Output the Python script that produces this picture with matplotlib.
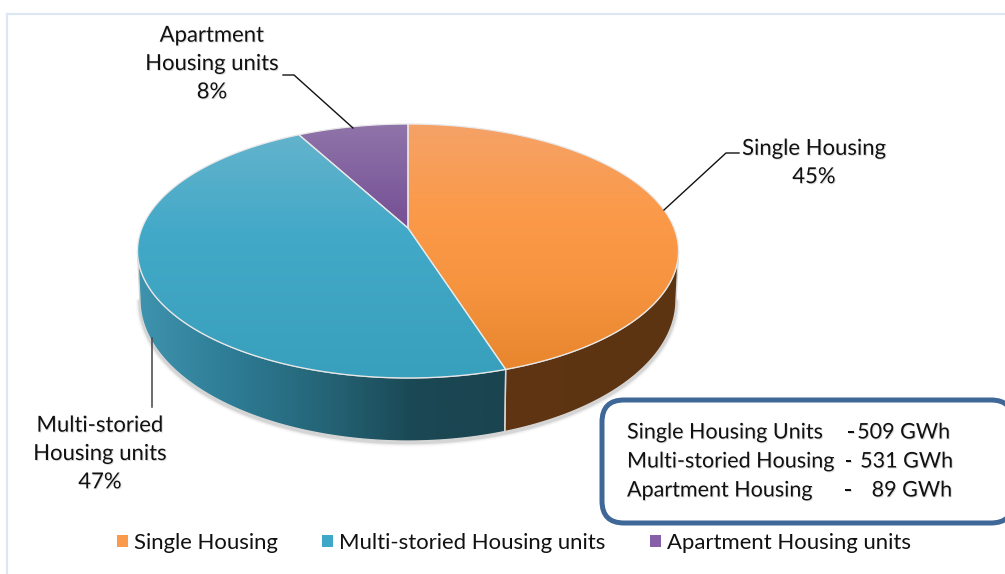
import numpy as np
import matplotlib
matplotlib.use("Agg")
import matplotlib.pyplot as plt
import matplotlib.patheffects as pe
from matplotlib.colors import LinearSegmentedColormap as LSC
from matplotlib.patches import FancyBboxPatch, Polygon, Rectangle

categories = ["Single Housing", "Multi-storied Housing units", "Apartment Housing units"]
callouts = ["Single Housing", "Multi-storied\nHousing units", "Apartment\nHousing units"]
energy_gwh = [509, 531, 89]
box_labels = ["Single Housing Units", "Multi-storied Housing", "Apartment Housing"]
legend_colors = ["#F99A4C", "#3FA8C8", "#8560A8"]

plt.rcParams["font.family"] = ["Lato", "DejaVu Sans"]
FS = 15.9
BOX_FS = 15.5
TXT = "#111111"
shadow = [pe.withSimplePatchShadow(offset=(0.7, -0.7), shadow_rgbFace="#777777", alpha=0.25)]

fig = plt.figure(figsize=(10.05, 5.74), dpi=100)
ax = fig.add_axes([0, 0, 1, 1])

# projected circle geometry (pixels of the canvas)
K = -0.181
TOP = dict(cx=408.0, cy=228.0, rx=266.0, ry=122.8)
BOT = dict(cx=408.0, cy=274.5, rx=263.6, ry=136.4)
SIL = np.degrees(np.arccos(K))  # silhouette angle of the disc (clockwise from top)


def rim(theta_deg, g):
    t = np.radians(np.asarray(theta_deg, dtype=float))
    u, v = np.sin(t), -np.cos(t)
    d = 1 + K * v
    return g["cx"] + g["rx"] * u / d, g["cy"] + g["ry"] * v / d


def gradient_fill(xy, stops, horizontal=False, zorder=2, edge="#E6E6E6", lw=0.9):
    xy = np.asarray(xy)
    x0, x1, y0, y1 = xy[:, 0].min(), xy[:, 0].max(), xy[:, 1].min(), xy[:, 1].max()
    ramp = np.linspace(0, 1, 256)
    arr = ramp[None, :] if horizontal else ramp[:, None]
    im = ax.imshow(arr, extent=(x0, x1, y1, y0), origin="upper", aspect="auto",
                   cmap=LSC.from_list("g", stops), vmin=0, vmax=1, zorder=zorder,
                   interpolation="bilinear")
    clip = Polygon(xy, closed=True, transform=ax.transData, fc="none", ec="none")
    ax.add_patch(clip)
    im.set_clip_path(clip)
    ax.add_patch(Polygon(xy, closed=True, fc="none", ec=edge, lw=lw, zorder=zorder + 0.1))


shares = np.array(energy_gwh, dtype=float) / sum(energy_gwh)
edges = np.concatenate([[0], np.cumsum(shares) * 360])

top_stops = [
    [(0, "#F5A268"), (0.35, "#FB9A4A"), (0.65, "#F79440"), (1, "#E8862E")],
    [(0, "#63B3CC"), (0.4, "#43A9C8"), (1, "#389FBC")],
    [(0, "#8F74A9"), (1, "#754F95")],
]
wall_stops = [
    ["#5F3512", "#5C3413"],
    ["#3F93AE", "#2E7C96", "#256577", "#1A4854", "#1A4450"],
]

# soft shadow below the walls
ang = np.linspace(SIL, 360 - SIL, 200)
bx, by = rim(ang, BOT)
for w, a in zip((6, 4, 2.5), (0.04, 0.08, 0.14)):
    ax.plot(bx, by + 1.5, color="#555555", lw=w, alpha=a, zorder=1, solid_capstyle="round")

# side walls, only the part of each slice facing the viewer
for i in range(2):
    a0 = max(edges[i], SIL)
    a1 = min(edges[i + 1], 360 - SIL)
    th = np.linspace(a0, a1, 150)
    tx, ty = rim(th, TOP)
    ux, uy = rim(th[::-1], BOT)
    wall = np.column_stack([np.r_[tx, ux], np.r_[ty, uy]])
    gradient_fill(wall, wall_stops[i], horizontal=True, zorder=2, edge="#D5D5D5", lw=1.0)

# top face
for i in range(3):
    th = np.linspace(edges[i], edges[i + 1], 200)
    tx, ty = rim(th, TOP)
    face = np.column_stack([np.r_[TOP["cx"], tx], np.r_[TOP["cy"], ty]])
    gradient_fill(face, top_stops[i], zorder=3, edge="#E8E8E8", lw=0.9)

# chart frame
ax.plot([7, 7], [574, 14], color="#DCE6F4", lw=1.6, zorder=0)
ax.plot([7, 1005], [14, 14], color="#DCE6F4", lw=1.6, zorder=0)

# callouts
percent = [f"{round(s * 100)}%" for s in shares]
pos = [(814, 163), (100, 454), (212, 64)]
for lab, pct, (x, y) in zip(callouts, percent, pos):
    ax.text(x, y, f"{lab}\n{pct}", ha="center", va="center", fontsize=FS, color=TXT,
            linespacing=1.52, zorder=6, path_effects=shadow)

ax.plot([739, 726, 664], [153, 153, 210], color="#111111", lw=1.0, zorder=5)
ax.plot([152, 152], [338, 407], color="#444444", lw=1.1, zorder=5)
ax.plot([283, 294, 353], [75, 75, 128], color="#111111", lw=1.0, zorder=5)

# energy box
ax.add_patch(FancyBboxPatch((602 + 22, 400 + 22), 1013 - 602 - 44, 523 - 400 - 44,
                            boxstyle="round,pad=22,rounding_size=22",
                            fc="white", ec="#3F6797", lw=3.6, zorder=4))
rows_y = [432.5, 461.5, 490.5]
dash_x = [851, 848.5, 848]
right_x = [950, 953, 952]
for lab, val, y, dx, rx in zip(box_labels, energy_gwh, rows_y, dash_x, right_x):
    ax.text(627, y, lab, ha="left", va="center", fontsize=BOX_FS, color=TXT, zorder=6, path_effects=shadow)
    ax.text(dx, y, "-", ha="center", va="center", fontsize=BOX_FS, color=TXT, zorder=6, path_effects=shadow)
    ax.text(rx, y, f"{val} GWh", ha="right", va="center", fontsize=BOX_FS, color=TXT, zorder=6, path_effects=shadow)

# legend
handles = [Rectangle((0, 0), 1, 1, fc=c, ec="none") for c in legend_colors]
leg = ax.legend(handles, categories, ncol=3, frameon=False, loc="center left",
                bbox_to_anchor=(117 / 1005, 1 - 543 / 574), fontsize=FS,
                handlelength=0.5, handleheight=0.5, handletextpad=0.28, columnspacing=2.0,
                borderpad=0, borderaxespad=0, labelcolor=TXT)
leg.set_zorder(6)

ax.set_xlim(0, 1005)
ax.set_ylim(574, 0)
ax.axis("off")
fig.savefig("out.png", dpi=100, facecolor="white")
